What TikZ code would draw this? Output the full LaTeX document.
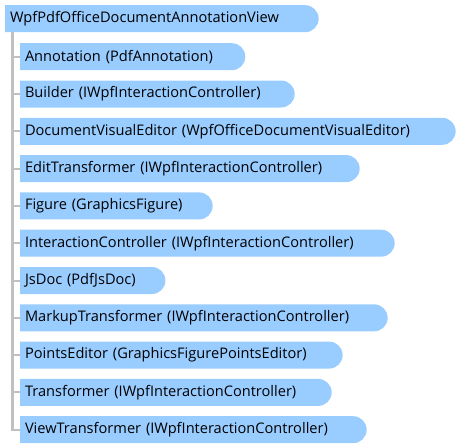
\documentclass[tikz,border=0pt]{standalone}
\usepackage{fontspec}
\setmainfont{Open Sans}
\usetikzlibrary{shapes.misc}
\definecolor{boxblue}{RGB}{153,204,255}
\definecolor{linegray}{RGB}{192,192,192}

\begin{document}
\begin{tikzpicture}[x=1pt, y=1pt,
        member/.style={rounded rectangle, rounded rectangle left arc=none, fill=boxblue,
            minimum height=27pt, inner xsep=5pt, inner ysep=0pt, outer sep=0pt,
            anchor=west, align=left, font=\fontsize{14.6}{17}\selectfont},
        link/.style={draw=linegray, line width=3pt},
        tick/.style={draw=linegray, line width=2pt}]
        \useasboundingbox (0,0) rectangle (472,-447);

        % root
        \node[member, text width=301.5pt] (root) at (5,-18.7) {WpfPdfOfficeDocumentAnnotationView};

        % members
        \def\x{20}
        \node[member, text width=213.5pt] (m1) at (\x,-56.7) {Annotation (PdfAnnotation)};
        \node[member, text width=262.5pt] (m2) at (\x,-94.0) {Builder (IWpfInteractionController)};
        \node[member, text width=423.5pt] (m3) at (\x,-131.3) {DocumentVisualEditor (WpfOfficeDocumentVisualEditor)};
        \node[member, text width=327.5pt] (m4) at (\x,-168.6) {EditTransformer (IWpfInteractionController)};
        \node[member, text width=180.5pt] (m5) at (\x,-205.9) {Figure (GraphicsFigure)};
        \node[member, text width=362.5pt] (m6) at (\x,-243.2) {InteractionController (IWpfInteractionController)};
        \node[member, text width=133.5pt] (m7) at (\x,-280.5) {JsDoc (PdfJsDoc)};
        \node[member, text width=355.5pt] (m8) at (\x,-317.8) {MarkupTransformer (IWpfInteractionController)};
        \node[member, text width=310.5pt] (m9) at (\x,-355.1) {PointsEditor (GraphicsFigurePointsEditor)};
        \node[member, text width=299.5pt] (m10) at (\x,-392.4) {Transformer (IWpfInteractionController)};
        \node[member, text width=334.5pt] (m11) at (\x,-429.7) {ViewTransformer (IWpfInteractionController)};

        % tree lines
        \coordinate (trunk) at ([xshift=7.5pt]root.south west);
        \draw[link] (trunk) -- (trunk |- m11.west);
        \foreach \m in {m1,m2,m3,m4,m5,m6,m7,m8,m9,m10,m11}
            \draw[tick] ([xshift=-1.5pt]trunk |- \m.west) -- (\m.west);
    \end{tikzpicture}
\end{document}
